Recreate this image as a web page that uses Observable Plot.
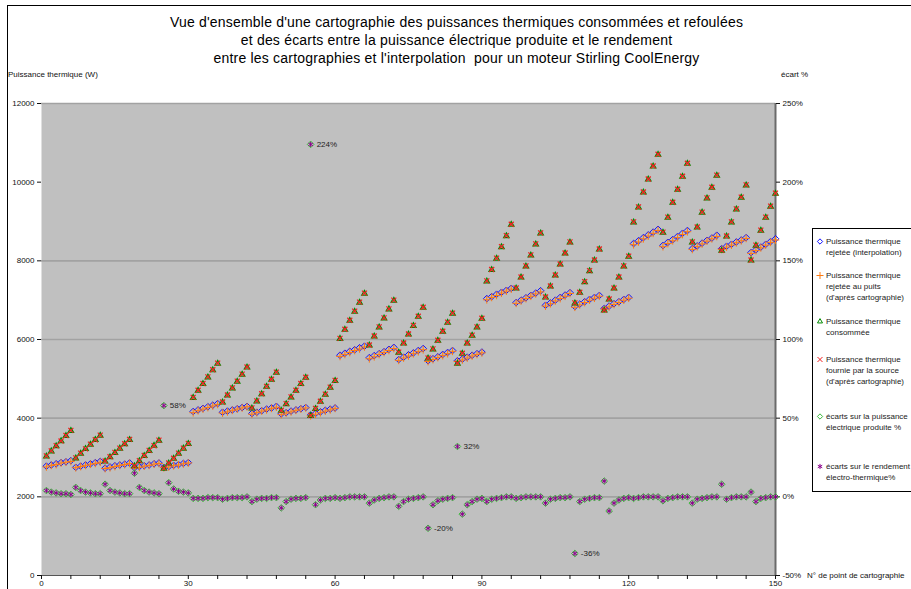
<!DOCTYPE html>
<html><head><meta charset="utf-8">
<script src="https://cdn.jsdelivr.net/npm/d3@7"></script>
<script src="https://cdn.jsdelivr.net/npm/@observablehq/plot@0.6"></script>
<style>
body{margin:0;background:#fff;font-family:"Liberation Sans",Arial,sans-serif;}
#wrap{position:relative;width:911px;height:589px;overflow:hidden;background:#fff;}
#frame{position:absolute;left:7px;top:5px;width:1000px;height:700px;border-left:1px solid #000;border-top:1px solid #000;}
#title{position:absolute;left:0;width:913px;top:13px;text-align:center;font-size:14px;letter-spacing:0.2px;line-height:18px;color:#000;}
.lbl{position:absolute;font-size:8px;color:#111;white-space:nowrap;}
#chart{position:absolute;left:0;top:0;}
#legend{position:absolute;left:812px;top:228px;width:120px;height:262px;border:1px solid #000;background:#fff;}
.item{position:absolute;left:3px;font-size:8px;line-height:11px;color:#222;white-space:nowrap;}
.item svg{position:absolute;left:0;top:0;}
.item div{position:absolute;left:10px;top:0;}
</style></head>
<body><div id="wrap">
<div id="frame"></div>
<div id="title">Vue d'ensemble d'une cartographie des puissances thermiques consommées et refoulées<br>et des écarts entre la puissance électrique produite et le rendement<br>entre les cartographies et l'interpolation&nbsp; pour un moteur Stirling CoolEnergy</div>
<div id="chart"></div>
<div class="lbl" style="left:8px;top:70px">Puissance thermique (W)</div>
<div class="lbl" style="left:781px;top:70px">écart %</div>
<div class="lbl" style="left:807px;top:571px">N° de point de cartographie</div>
<div id="legend"></div>
</div>
<script>
// ---- Data ----
const pointNumbers = d3.range(1, 151);

const rejeteeInterpolation = [
 2780,2810,2840,2870,2890,2920, 2750,2780,2810,2840,2870,2900, 2730,2760,2790,2810,2830,2860, 2740,2770,2790,2810,2840,2860, 2750,2770,2800,2820,2850,2870,
 4170,4210,4250,4290,4330,4370, 4150,4180,4210,4240,4270,4300, 4120,4150,4190,4230,4260,4300, 4110,4140,4180,4210,4240,4270, 4080,4120,4160,4200,4230,4260,
 5600,5650,5700,5740,5790,5830, 5540,5590,5640,5690,5750,5800, 5490,5550,5610,5660,5720,5770, 5460,5510,5560,5620,5670,5720, 5460,5500,5550,5600,5640,5680,
 7040,7090,7150,7200,7250,7300, 6940,7000,7060,7120,7180,7240, 6870,6930,7000,7070,7130,7190, 6840,6900,6960,7020,7070,7120, 6790,6850,6910,6960,7020,7070,
 8440,8510,8590,8660,8730,8800, 8390,8470,8540,8620,8700,8770, 8310,8380,8450,8520,8580,8650, 8310,8370,8420,8480,8530,8590, 8210,8280,8350,8420,8490,8560];

const rejeteePuits = [
 2760,2800,2820,2860,2880,2900, 2740,2770,2800,2830,2850,2880, 2720,2740,2770,2800,2820,2850, 2730,2750,2780,2800,2830,2850, 2740,2760,2790,2810,2840,2860,
 4140,4190,4230,4270,4310,4350, 4130,4160,4200,4230,4260,4290, 4100,4140,4180,4210,4250,4280, 4090,4130,4160,4200,4230,4260, 4060,4100,4140,4180,4210,4250,
 5570,5620,5670,5720,5760,5810, 5510,5560,5620,5670,5720,5770, 5470,5530,5580,5640,5690,5740, 5440,5490,5540,5590,5640,5700, 5440,5480,5530,5580,5620,5660,
 7010,7070,7120,7180,7230,7280, 6920,6980,7040,7100,7160,7210, 6850,6910,6980,7040,7100,7170, 6820,6880,6940,7000,7050,7100, 6770,6830,6890,6940,7000,7050,
 8410,8480,8560,8630,8700,8770, 8360,8440,8510,8590,8670,8740, 8290,8360,8430,8500,8560,8620, 8290,8350,8400,8460,8510,8570, 8190,8260,8330,8400,8470,8530];

const consommee = [
 3030,3160,3290,3420,3550,3680, 2980,3100,3220,3330,3450,3560, 2900,3010,3120,3230,3340,3450, 2780,2910,3040,3170,3300,3430, 2720,2850,2970,3100,3230,3350,
 4520,4700,4870,5040,5220,5390, 4400,4580,4760,4930,5110,5290, 4250,4430,4610,4800,4980,5160, 4190,4360,4530,4700,4870,5030, 4060,4240,4420,4600,4780,4950,
 6020,6250,6480,6710,6940,7170, 5850,6080,6310,6540,6770,6990, 5670,5900,6130,6350,6580,6810, 5520,5750,5970,6200,6430,6660, 5390,5640,5900,6100,6310,6530,
 7480,7770,8060,8350,8630,8920, 7300,7580,7860,8140,8420,8700, 7070,7350,7630,7910,8190,8470, 6920,7190,7460,7740,8010,8290, 6740,7020,7300,7580,7860,8110,
 8980,9360,9740,10070,10400,10700, 8720,9100,9480,9810,10140,10470, 8470,8850,9230,9590,9860,10170, 8260,8620,8980,9310,9610,9920, 8010,8390,8770,9100,9380,9710];

const fournieSource = [
 3040,3170,3300,3420,3560,3690, 2990,3110,3220,3340,3450,3570, 2910,3020,3130,3240,3350,3460, 2790,2920,3050,3180,3300,3440, 2730,2860,2980,3110,3240,3360,
 4530,4710,4880,5050,5230,5400, 4410,4590,4770,4940,5120,5300, 4260,4440,4620,4810,4990,5170, 4200,4370,4540,4710,4880,5040, 4070,4250,4430,4610,4790,4960,
 6030,6260,6490,6720,6950,7180, 5860,6090,6320,6550,6780,7000, 5680,5910,6140,6360,6590,6820, 5530,5760,5980,6210,6440,6670, 5400,5650,5910,6110,6320,6540,
 7490,7780,8070,8360,8640,8930, 7310,7590,7870,8150,8430,8710, 7080,7360,7640,7920,8200,8480, 6930,7200,7470,7750,8020,8300, 6750,7030,7310,7590,7870,8120,
 8990,9370,9750,10080,10410,10710, 8730,9110,9490,9820,10150,10480, 8480,8860,9240,9600,9870,10180, 8270,8630,8990,9320,9620,9930, 8020,8400,8780,9110,9390,9720];

// écarts in %
const ecartPuissanceElec = [
 4,3,2.5,2,2,1.5, 6,4,3,2.5,2,2, 8,4,3,2.5,2,2, 15,6,4,3,2.5,2, 58,9,5,3.5,3,2.5,
 -1,-1,-1,-0.5,-0.5,-0.5, -1.5,-1,-0.5,-0.5,-0.5,0, -3,-1.5,-1,-1,-0.5,-0.5, -7,-3,-1.5,-1,-1,-0.5, 224,-5,-2,-1,-1,-0.5,
 -1,-0.5,0,0,0,0, -4,-2,-1,-0.5,0,0, -6,-3,-1.5,-1,-0.5,0, -20,-5,-2.5,-1.5,-1,-0.5, 32,-11,-5,-3,-1.5,-1,
 -3,-1.5,-1,-0.5,0,0, -1,-0.5,0,0,0,0, -4,-1.5,-1,-0.5,-0.5,0, -36,-3,-1.5,-1,-0.5,-0.5, 10,-9,-4,-2,-1,-0.5,
 -1,-0.5,0,0,0,0, -2.5,-1,-0.5,0,0,0, -4,-1.5,-1,-0.5,0,0, 8,-1.5,-0.5,0,0,0, 3,-3,-1,-0.5,0,0];

const ecartRendement = [
 4,3,2.5,2,2,1.5, 6,4,3,2.5,2,2, 8,4,3,2.5,2,2, 15,6,4,3,2.5,2, 58,9,5,3.5,3,2.5,
 -1,-1,-1,-0.5,-0.5,-0.5, -1.5,-1,-0.5,-0.5,-0.5,0, -3,-1.5,-1,-1,-0.5,-0.5, -7,-3,-1.5,-1,-1,-0.5, 224,-5,-2,-1,-1,-0.5,
 -1,-0.5,0,0,0,0, -4,-2,-1,-0.5,0,0, -6,-3,-1.5,-1,-0.5,0, -20,-5,-2.5,-1.5,-1,-0.5, 32,-11,-5,-3,-1.5,-1,
 -3,-1.5,-1,-0.5,0,0, -1,-0.5,0,0,0,0, -4,-1.5,-1,-0.5,-0.5,0, -36,-3,-1.5,-1,-0.5,-0.5, 10,-9,-4,-2,-1,-0.5,
 -1,-0.5,0,0,0,0, -2.5,-1,-0.5,0,0,0, -4,-1.5,-1,-0.5,0,0, 8,-1.5,-0.5,0,0,0, 3,-3,-1,-0.5,0,0];

const labelledPoints = [25, 55, 79, 85, 109];

const leftTicks = [0,2000,4000,6000,8000,10000,12000];
const rightTicksPct = [-50,0,50,100,150,200,250];
const gridLines = [2000,4000,6000,8000,12000];
const xTicksMajor = [0,30,60,90,120,150];
const xTicksMinor = d3.range(0,151,6);

// ---- Build ----
const pctToW = p => (p + 50) * 40;   // secondary axis: -50%..250% over 0..12000 W
const rows = pointNumbers.map((n,i) => ({
  n, interp: rejeteeInterpolation[i], puits: rejeteePuits[i], cons: consommee[i], src: fournieSource[i],
  elec: pctToW(ecartPuissanceElec[i]), rend: pctToW(ecartRendement[i]), pct: ecartRendement[i]
}));
const labelRows = rows.filter(d => labelledPoints.includes(d.n));

const C = {blue:"#1010ff", orange:"#ff7a10", green:"#008a00", red:"#f02020", lgreen:"#3cb83c", purple:"#8a008a"};

const chart = Plot.plot({
  width: 911, height: 589,
  marginTop: 103, marginBottom: 14, marginLeft: 41, marginRight: 136,
  x: {domain: [0,150]},
  y: {domain: [0,12000]},
  style: {background: "transparent", fontFamily: "Liberation Sans, Arial, sans-serif", fontSize: "8px", color: "#111"},
  marks: [
    Plot.frame({fill: "#c0c0c0", stroke: null}),
    Plot.ruleY(gridLines, {stroke: "#a2a2a2", strokeWidth: 1.6}),
    Plot.ruleY([0], {stroke: "#555", strokeWidth: 1}),
    Plot.ruleX([150], {stroke: "#6a6a6a", strokeWidth: 2}),
    Plot.axisY({ticks: leftTicks, tickFormat: d => String(d), tickSize: 4, tickPadding: 3, label: null}),
    Plot.axisY({anchor: "right", ticks: rightTicksPct.map(pctToW), tickFormat: v => `${v/40-50}%`, tickSize: 4, tickPadding: 3, label: null}),
    Plot.axisX({ticks: xTicksMinor, tickFormat: d => xTicksMajor.includes(d) ? String(d) : "", tickSize: 4, tickPadding: 1, label: null}),
    Plot.dot(rows, {x: "n", y: "interp", symbol: "diamond2", stroke: C.blue, r: 3, strokeWidth: 1}),
    Plot.dot(rows, {x: "n", y: "puits", symbol: "plus", stroke: C.orange, r: 2.6, strokeWidth: 1}),
    Plot.dot(rows, {x: "n", y: "cons", symbol: "triangle2", stroke: C.green, r: 2.6, strokeWidth: 1.2}),
    Plot.dot(rows, {x: "n", y: "src", symbol: "times", stroke: C.red, r: 2.4, strokeWidth: 1.2}),
    Plot.dot(rows, {x: "n", y: "elec", symbol: "diamond2", stroke: C.lgreen, r: 3, strokeWidth: 1}),
    Plot.dot(rows, {x: "n", y: "rend", symbol: "asterisk", stroke: C.purple, r: 2.4, strokeWidth: 1}),
    Plot.text(labelRows, {x: "n", y: "rend", text: d => `${d.pct}%`, dx: 6, textAnchor: "start", fill: "#222", fontSize: 8})
  ]
});
document.getElementById("chart").appendChild(chart);

// ---- Legend ----
const legendItems = [
  {sym: d3.symbolDiamond2, color: C.blue, lines: ["Puissance thermique","rejetée (interpolation)"], top: 7},
  {sym: d3.symbolPlus, color: C.orange, lines: [" Puissance thermique","rejetée au puits","(d'après cartographie)"], top: 41},
  {sym: d3.symbolTriangle2, color: C.green, lines: ["Puissance thermique","consommée"], top: 87},
  {sym: d3.symbolTimes, color: C.red, lines: [" Puissance thermique","fournie par la source","(d'après cartographie)"], top: 125},
  {sym: d3.symbolDiamond2, color: C.lgreen, lines: ["écarts sur la puissance","électrique produite %"], top: 182},
  {sym: d3.symbolAsterisk, color: C.purple, lines: ["écarts sur le rendement","électro-thermique%"], top: 232}
];
const leg = d3.select("#legend");
for (const it of legendItems) {
  const item = leg.append("div").attr("class","item").style("top", it.top + "px");
  const svg = item.append("svg").attr("width", 9).attr("height", 11);
  svg.append("path").attr("d", d3.symbol(it.sym, 18)()).attr("transform","translate(4,5.5)")
     .attr("fill","none").attr("stroke", it.color).attr("stroke-width", 1);
  item.append("div").html(it.lines.join("<br>"));
}
</script>
</body></html>
